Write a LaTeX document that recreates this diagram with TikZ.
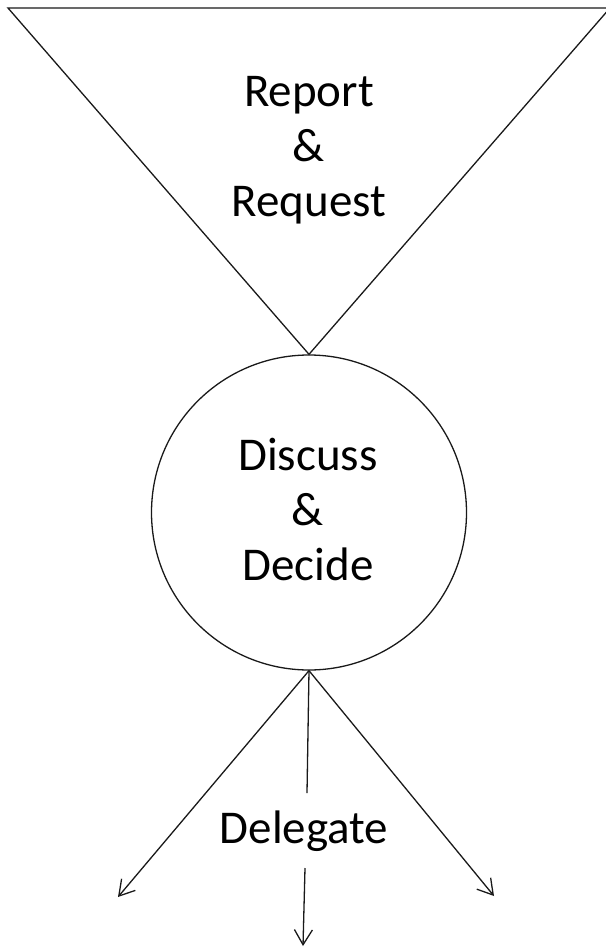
\documentclass[tikz,border=0pt]{standalone}
\usepackage{fontspec}
\setmainfont{Carlito}
\usetikzlibrary{arrows.meta}
\begin{document}
\begin{tikzpicture}[x=1pt,y=-1pt,
  ln/.style={line width=1.3pt, draw=black!90},
  arr/.style={ln, -{Straight Barb[length=15pt,width=18pt,line width=1.3pt]}},
  lbl/.style={font=\fontsize{47}{55}\selectfont, align=center, inner sep=0pt}]
\useasboundingbox (0,0) rectangle (605,949);
\coordinate (tl) at (8,8);
\coordinate (tr) at (610,8);
\node[circle, ln, minimum size=315pt, inner sep=0pt] (dd) at (309,512.5) {};
\draw[ln] (tl) -- (tr) -- (dd.north) -- cycle;
\node[lbl] (rr) at (309,150) {Report\\\&\\Request};
\node[lbl] (dt) at (308,509) {Discuss\\\&\\Decide};
\node[lbl, anchor=base] (dg) at (304,843) {Delegate};
\coordinate (lt) at (118,897);
\coordinate (rt) at (494,896);
\coordinate (m1) at (307,793);
\coordinate (m2) at (305,868);
\coordinate (m3) at (303,946);
\draw[arr] (dd.south) -- (lt);
\draw[arr] (dd.south) -- (rt);
\draw[ln] (dd.south) -- (m1);
\draw[arr] (m2) -- (m3);
\end{tikzpicture}
\end{document}
